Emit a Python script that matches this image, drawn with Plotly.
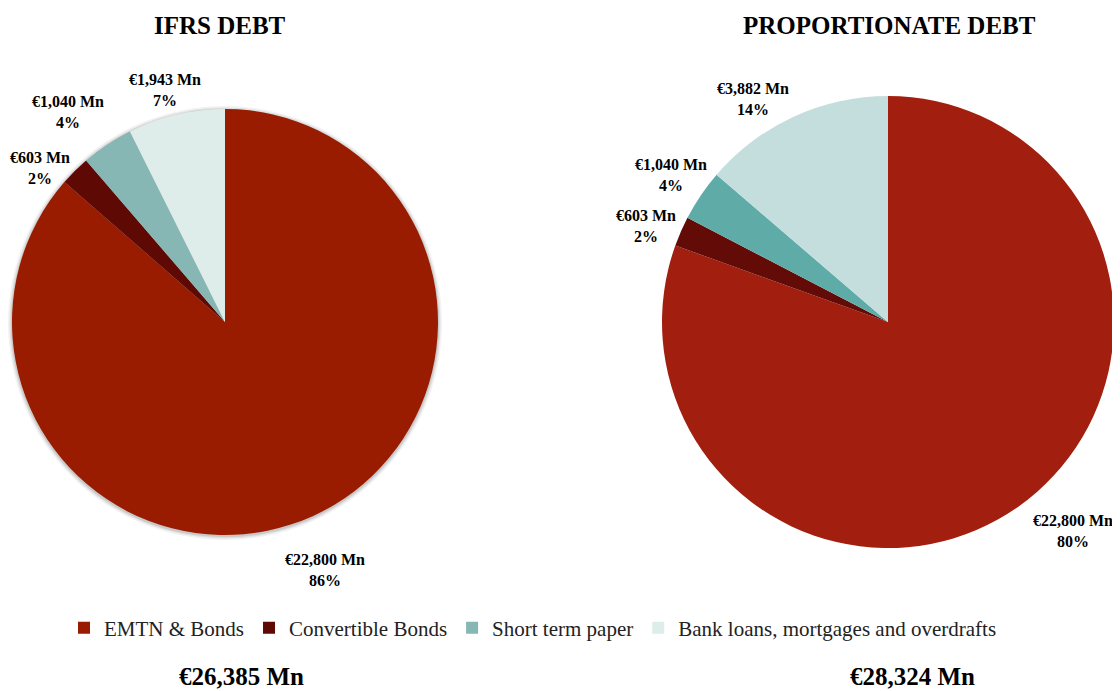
import math
import plotly.graph_objects as go

categories = ["EMTN & Bonds", "Convertible Bonds", "Short term paper",
              "Bank loans, mortgages and overdrafts"]
ifrs_values = [22800, 603, 1040, 1943]
prop_values = [22800, 603, 1040, 3882]
ifrs_total = "€26,385 Mn"
prop_total = "€28,324 Mn"
titles = ["IFRS DEBT", "PROPORTIONATE DEBT"]

ifrs_colors = ["#991B00", "#5E0903", "#86B7B5", "#DEEDE9"]
prop_colors = ["#A21F0F", "#630B06", "#5FABA8", "#C4DEDE"]

FONT = "Liberation Serif"

# page body has an 8px margin -> figure drawn in a 1112x683 frame offset by 8px
OFF = 8
W, H = 1120 - OFF, 691 - OFF


def px_x(x):
    return (x - OFF) / W


def px_y(y):
    return 1 - (y - OFF) / H


# pie boxes in window pixels: (left, top, right, bottom)
boxes = [(12, 109, 438, 535), (662, 92, 1114, 552)]
# label placement styling: angular nudge (deg) and radial distance (x radius)
label_dtheta = [[2.5, -5.4, -3.2, -1.2], [-6.5, -2.0, 0.0, -6.6]]
label_dist = [[1.254, 1.131, 1.230, 1.127], [1.235, 1.150, 1.158, 1.154]]
LABEL_SIZE = 16

fig = go.Figure()
annotations = []
shapes = []
for i, (vals, cols, box) in enumerate(zip([ifrs_values, prop_values],
                                          [ifrs_colors, prop_colors], boxes)):
    l, t, r_, b = box
    fig.add_trace(go.Pie(
        labels=categories, values=vals, sort=False, direction="clockwise",
        rotation=0, marker=dict(colors=cols, line=dict(width=0)),
        textinfo="none", hoverinfo="label+value+percent",
        domain=dict(x=[px_x(l), px_x(r_)], y=[px_y(b), px_y(t)]),
        showlegend=(i == 0), automargin=False,
    ))
    cx, cy = (l + r_) / 2, (t + b) / 2
    rad = min(r_ - l, b - t) / 2
    if i == 0:
        for grow, alpha in [(4, 0.05), (2.5, 0.07), (1.2, 0.10)]:
            shapes.append(dict(type="circle", xref="paper", yref="paper",
                               x0=px_x(cx - rad - grow), x1=px_x(cx + rad + grow),
                               y0=px_y(cy + rad + grow + 1), y1=px_y(cy - rad - grow + 1),
                               fillcolor=f"rgba(0,0,0,{alpha})", line=dict(width=0),
                               layer="below"))
    total = sum(vals)
    cum = 0
    for j, v in enumerate(vals):
        mid = (cum + v / 2) / total * 2 * math.pi + math.radians(label_dtheta[i][j])
        cum += v
        line1 = f"€{v:,} Mn"
        pct = f"{round(v / total * 100)}%"
        d = rad * label_dist[i][j]
        lx, ly = cx + math.sin(mid) * d, cy - math.cos(mid) * d
        annotations.append(dict(
            text=f"<b>{line1}<br>{pct}</b>", x=px_x(lx), y=px_y(ly),
            font=dict(size=LABEL_SIZE)))

annotations += [
    dict(text=f"<b>{titles[0]}</b>", x=px_x(220), y=px_y(25), font=dict(size=25)),
    dict(text=f"<b>{titles[1]}</b>", x=px_x(889), y=px_y(25), font=dict(size=25)),
    dict(text=f"<b>{ifrs_total}</b>", x=px_x(241), y=px_y(676), font=dict(size=25)),
    dict(text=f"<b>{prop_total}</b>", x=px_x(912), y=px_y(676), font=dict(size=25)),
]
for a in annotations:
    a.update(xref="paper", yref="paper", showarrow=False,
             xanchor="center", yanchor="middle")
    a["font"].update(family=FONT, color="black")

fig.update_layout(
    width=W, height=H,
    margin=dict(l=0, r=0, t=0, b=0),
    paper_bgcolor="white", plot_bgcolor="white",
    font=dict(family=FONT, color="black"),
    annotations=annotations,
    shapes=shapes,
    legend=dict(orientation="h", x=px_x(64), xanchor="left", y=px_y(628),
                yanchor="middle", font=dict(family=FONT, size=21, color="#222"),
                traceorder="normal"),
)

fig.write_html("out.html")
